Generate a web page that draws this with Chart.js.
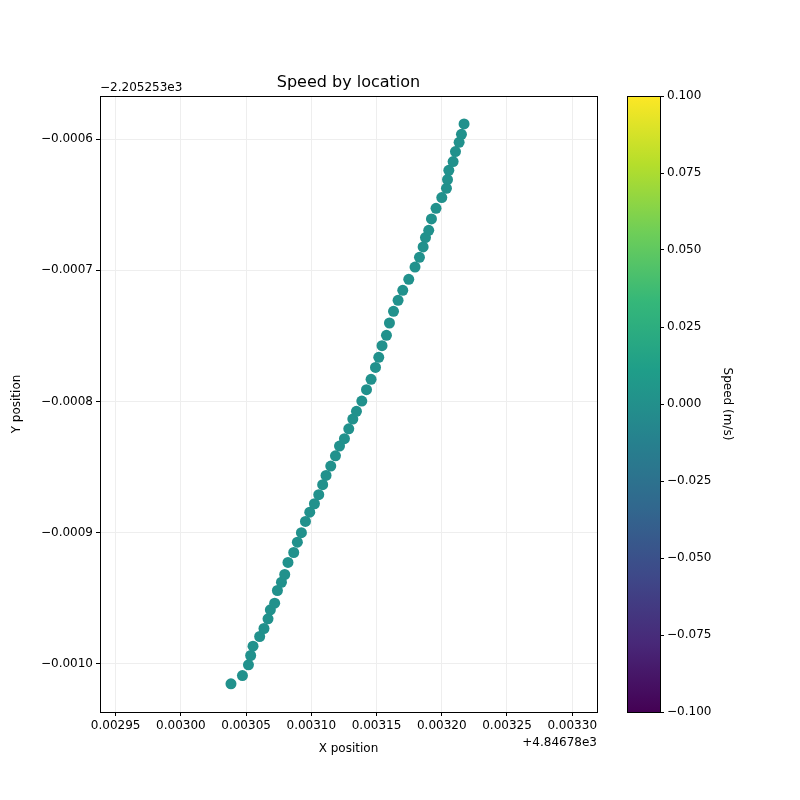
<!DOCTYPE html>
<html>
<head>
<meta charset="utf-8">
<script src="https://cdn.jsdelivr.net/npm/chart.js@4/dist/chart.umd.min.js"></script>
<style>
  body { margin: 0; background: #fff; }
  canvas { position: absolute; left: 0; top: 0; }
</style>
</head>
<body>
<canvas id="main" width="800" height="800"></canvas>
<canvas id="cbar" width="800" height="800"></canvas>
<script>
// x positions (offset +4.84678e3)
const xPos = [0.0030384, 0.0030472, 0.0030518, 0.0030535, 0.0030553, 0.0030604, 0.0030637, 0.0030668, 0.0030686, 0.0030719,
  0.0030740, 0.0030771, 0.0030796, 0.0030821, 0.0030865, 0.0030893, 0.0030924, 0.0030955, 0.0030988, 0.0031024,
  0.0031057, 0.0031087, 0.0031113, 0.0031149, 0.0031185, 0.0031216, 0.0031254, 0.0031287, 0.0031318, 0.0031346,
  0.0031387, 0.0031423, 0.0031458, 0.0031492, 0.0031517, 0.0031542, 0.0031576, 0.0031599, 0.0031630, 0.0031665,
  0.0031701, 0.0031747, 0.0031795, 0.0031829, 0.0031857, 0.0031875, 0.0031900, 0.0031921, 0.0031956, 0.0032000,
  0.0032036, 0.0032044, 0.0032054, 0.0032087, 0.0032105, 0.0032133, 0.0032151, 0.0032171];
// y positions (offset -2.205253e3)
const yPos = [-0.0010155, -0.0010092, -0.0010010, -0.0009939, -0.0009868, -0.0009794, -0.0009733, -0.0009659, -0.0009590, -0.0009540,
  -0.0009443, -0.0009380, -0.0009321, -0.0009229, -0.0009153, -0.0009074, -0.0009002, -0.0008916, -0.0008845, -0.0008781,
  -0.0008712, -0.0008636, -0.0008565, -0.0008494, -0.0008415, -0.0008341, -0.0008285, -0.0008209, -0.0008135, -0.0008076,
  -0.0007998, -0.0007911, -0.0007832, -0.0007741, -0.0007664, -0.0007575, -0.0007496, -0.0007402, -0.0007313, -0.0007229,
  -0.0007153, -0.0007069, -0.0006975, -0.0006901, -0.0006822, -0.0006750, -0.0006695, -0.0006608, -0.0006527, -0.0006445,
  -0.0006374, -0.0006308, -0.0006237, -0.0006170, -0.0006094, -0.0006023, -0.0005962, -0.0005883];
const xTicks = [0.00295, 0.00300, 0.00305, 0.00310, 0.00315, 0.00320, 0.00325, 0.00330];
const yTicks = [-0.0010, -0.0009, -0.0008, -0.0007, -0.0006];
const cbTicks = [-0.1, -0.075, -0.05, -0.025, 0, 0.025, 0.05, 0.075, 0.1];

const viridis = ['#440154', '#482878', '#3e4989', '#31688e', '#26828e', '#1f9e89', '#35b779', '#6ece58', '#b5de2b', '#fde725'];
const font = { family: 'DejaVu Sans', size: 12 };
const minus = s => s.replace('-', '\u2212');
Chart.defaults.color = '#000';

new Chart(document.getElementById('main'), {
  type: 'scatter',
  data: {
    datasets: [{
      data: xPos.map((x, i) => ({ x: x, y: yPos[i] })),
      backgroundColor: '#21918c',
      borderWidth: 0,
      pointRadius: 5.5
    }]
  },
  options: {
    responsive: false,
    animation: false,
    layout: { padding: { top: 96, right: 203, left: 6, bottom: 40 } },
    plugins: { legend: { display: false }, tooltip: { enabled: false } },
    scales: {
      x: {
        type: 'linear', min: 0.002938, max: 0.003319,
        afterBuildTicks: s => { s.ticks = xTicks.map(v => ({ value: v })); },
        afterFit: s => { s.height = 48; },
        ticks: { font: font, maxRotation: 0, callback: v => v.toFixed(5) },
        grid: { color: '#eeeeee', tickColor: '#000', tickLength: 4 },
        border: { color: '#000' },
        title: { display: true, text: 'X position', font: font, padding: { top: 2 } }
      },
      y: {
        type: 'linear', min: -0.001037, max: -0.000567,
        afterBuildTicks: s => { s.ticks = yTicks.map(v => ({ value: v })); },
        afterFit: s => { s.width = 94; },
        ticks: { font: font, callback: v => minus(v.toFixed(4)) },
        grid: { color: '#eeeeee', tickColor: '#000', tickLength: 4 },
        border: { color: '#000' },
        title: { display: true, text: 'Y position', font: font, padding: { bottom: 0 } }
      }
    }
  },
  plugins: [{
    id: 'frame',
    afterDraw(c) {
      const a = c.chartArea, ctx = c.ctx;
      ctx.save();
      ctx.strokeStyle = '#000'; ctx.lineWidth = 1;
      ctx.strokeRect(a.left + 0.5, a.top + 0.5, a.right - a.left, a.bottom - a.top);
      ctx.fillStyle = '#000';
      ctx.font = '16px "DejaVu Sans"';
      ctx.textAlign = 'center'; ctx.textBaseline = 'bottom';
      ctx.fillText('Speed by location', (a.left + a.right) / 2, a.top - 5);
      ctx.font = '12px "DejaVu Sans"';
      ctx.textAlign = 'left';
      ctx.fillText('\u22122.205253e3', a.left, a.top - 2);
      ctx.textAlign = 'right'; ctx.textBaseline = 'top';
      ctx.fillText('+4.84678e3', a.right, a.bottom + 25);
      ctx.restore();
    }
  }]
});

new Chart(document.getElementById('cbar'), {
  type: 'scatter',
  data: { datasets: [] },
  options: {
    responsive: false,
    animation: false,
    layout: { padding: { top: 96, left: 627, right: 62, bottom: 88 } },
    plugins: { legend: { display: false }, tooltip: { enabled: false } },
    scales: {
      x: { display: false, min: 0, max: 1 },
      y: {
        position: 'right', min: -0.1, max: 0.1,
        afterBuildTicks: s => { s.ticks = cbTicks.map(v => ({ value: v })); },
        afterFit: s => { s.width = 78; },
        ticks: { font: font, callback: v => minus(v.toFixed(3)) },
        grid: { drawOnChartArea: false, tickColor: '#000', tickLength: 4 },
        border: { color: '#000' },
        title: { display: true, text: 'Speed (m/s)', font: font }
      }
    }
  },
  plugins: [{
    id: 'gradient',
    afterDraw(c) {
      const a = c.chartArea, ctx = c.ctx;
      const g = ctx.createLinearGradient(0, a.bottom, 0, a.top);
      viridis.forEach((col, i) => g.addColorStop(i / (viridis.length - 1), col));
      ctx.save();
      ctx.fillStyle = g;
      ctx.fillRect(a.left, a.top, a.right - a.left, a.bottom - a.top);
      ctx.strokeStyle = '#000';
      ctx.strokeRect(a.left + 0.5, a.top + 0.5, a.right - a.left, a.bottom - a.top);
      ctx.restore();
    }
  }]
});
</script>
</body>
</html>
